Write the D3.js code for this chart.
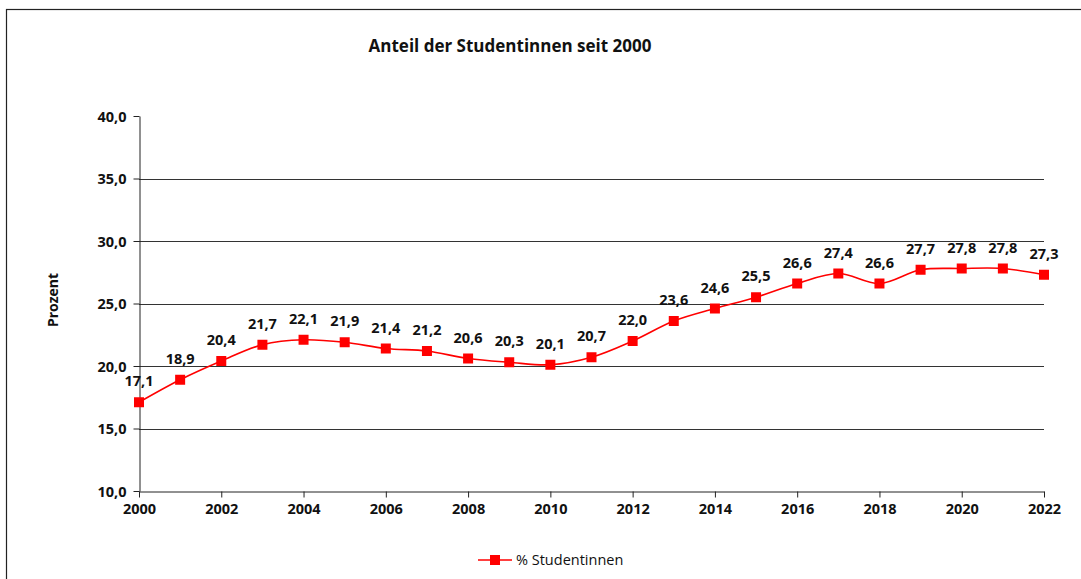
<!DOCTYPE html>
<html>
<head>
<meta charset="utf-8">
<script src="https://cdn.jsdelivr.net/npm/d3@7"></script>
<style>
  body { margin: 0; background: #fff; }
  svg { display: block; font-family: "Open Sans", Lato, sans-serif; }
</style>
</head>
<body>
<div class="graph"></div>
<script>
const width = 1081;
const height = 579;
const margin = { left: 139, top: 116, right: 1044, bottom: 491 };

// data
const years = [2000, 2001, 2002, 2003, 2004, 2005, 2006, 2007, 2008, 2009, 2010, 2011,
  2012, 2013, 2014, 2015, 2016, 2017, 2018, 2019, 2020, 2021, 2022];
const share = [17.1, 18.9, 20.4, 21.7, 22.1, 21.9, 21.4, 21.2, 20.6, 20.3, 20.1, 20.7,
  22.0, 23.6, 24.6, 25.5, 26.6, 27.4, 26.6, 27.7, 27.8, 27.8, 27.3];
const yTicks = [10, 15, 20, 25, 30, 35, 40];
const xTicks = [2000, 2002, 2004, 2006, 2008, 2010, 2012, 2014, 2016, 2018, 2020, 2022];

const data = years.map((y, i) => ({ year: y, value: share[i] }));
const fmt = (v) => d3.format(".1f")(v).replace(".", ",");

const svg = d3.select(".graph").append("svg")
  .attr("width", width)
  .attr("height", height);

// outer chart frame (only left/top visible)
svg.append("rect")
  .attr("x", 6.5).attr("y", 9.5)
  .attr("width", width + 10).attr("height", height + 10)
  .attr("fill", "none")
  .attr("stroke", "#222")
  .attr("stroke-width", 1.2);

let x = d3.scaleLinear().domain([2000, 2022]).range([margin.left, margin.right]);
let y = d3.scaleLinear().domain([10, 40]).range([margin.bottom, margin.top]);

/* gridlines */
svg.append("g")
  .selectAll("line")
  .data(yTicks.filter(d => d > 10 && d < 40))
  .enter().append("line")
  .attr("x1", margin.left).attr("x2", margin.right)
  .attr("y1", d => Math.round(y(d)) + 0.5).attr("y2", d => Math.round(y(d)) + 0.5)
  .attr("stroke", "#333")
  .attr("stroke-width", 1);

/* axes */
let yAxis = svg.append("g")
  .attr("transform", "translate(" + (margin.left + 0.5) + ",0)")
  .call(d3.axisLeft(y).tickValues(yTicks).tickFormat(fmt).tickSize(6).tickSizeOuter(0));

let xAxis = svg.append("g")
  .attr("transform", "translate(0," + (margin.bottom + 0.5) + ")")
  .call(d3.axisBottom(x).tickValues(xTicks).tickFormat(d3.format("d")).tickSize(6).tickSizeOuter(0));

[yAxis, xAxis].forEach(a => {
  a.select(".domain").attr("stroke", "#222");
  a.selectAll(".tick line").attr("stroke", "#222");
  a.selectAll(".tick text")
    .attr("fill", "#111")
    .style("font-size", "14.5px")
    .style("font-weight", "bold")
    .style("font-family", "'Open Sans', sans-serif");
});
yAxis.selectAll(".tick text").attr("x", -13).attr("dy", "0.36em");
xAxis.selectAll(".tick text").attr("y", 12).attr("dy", "0.71em");

/* title + axis label */
svg.append("text")
  .attr("x", 510).attr("y", 52)
  .attr("text-anchor", "middle")
  .style("font-size", "17px")
  .style("font-weight", "bold")
  .attr("fill", "#111")
  .text("Anteil der Studentinnen seit 2000");

svg.append("text")
  .attr("transform", "translate(58,300) rotate(-90)")
  .attr("text-anchor", "middle")
  .style("font-size", "14px")
  .style("font-weight", "bold")
  .attr("fill", "#111")
  .text("Prozent");

/* line */
let line = d3.line()
  .x(d => x(d.year))
  .y(d => y(d.value))
  .curve(d3.curveCatmullRom.alpha(0.5));

svg.append("path")
  .datum(data)
  .attr("d", line)
  .attr("fill", "none")
  .attr("stroke", "#ff0000")
  .attr("stroke-width", 1.6);

svg.append("g")
  .selectAll("rect")
  .data(data)
  .enter().append("rect")
  .attr("x", d => x(d.year) - 5)
  .attr("y", d => y(d.value) - 5)
  .attr("width", 10).attr("height", 10)
  .attr("fill", "#ff0000");

svg.append("g")
  .selectAll("text")
  .data(data)
  .enter().append("text")
  .attr("x", d => x(d.year))
  .attr("y", d => y(d.value) - 16)
  .attr("text-anchor", "middle")
  .style("font-size", "14.5px")
  .style("font-weight", "bold")
  .attr("fill", "#111")
  .text(d => fmt(d.value));

/* legend */
let legend = svg.append("g").attr("transform", "translate(478,560)");
legend.append("line")
  .attr("x1", 0).attr("x2", 34).attr("y1", 0).attr("y2", 0)
  .attr("stroke", "#ff0000").attr("stroke-width", 1.6);
legend.append("rect")
  .attr("x", 12).attr("y", -5).attr("width", 10).attr("height", 10)
  .attr("fill", "#ff0000");
legend.append("text")
  .attr("x", 38).attr("y", 0).attr("dy", "0.35em")
  .style("font-size", "14.5px")
  .attr("fill", "#111")
  .text("% Studentinnen");
</script>
</body>
</html>
